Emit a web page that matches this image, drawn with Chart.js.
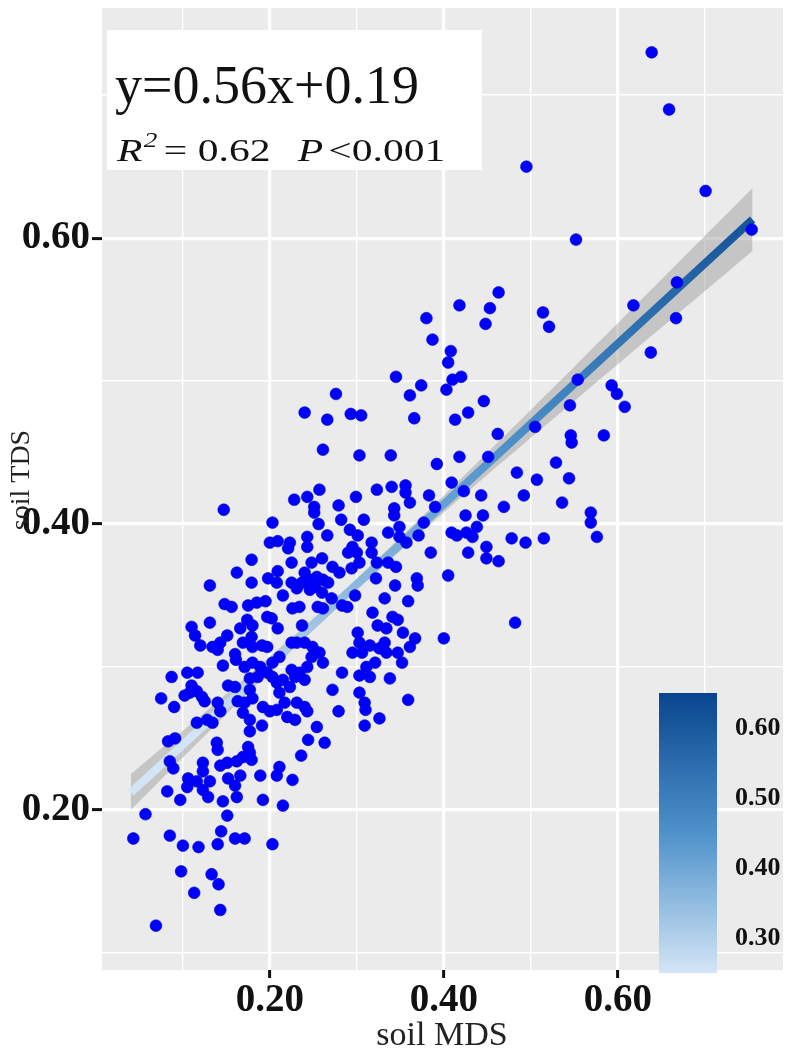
<!DOCTYPE html>
<html lang="en">
<head>
<meta charset="UTF-8" />
<title>soil MDS vs soil TDS</title>
<style>
  html, body { margin: 0; padding: 0; background: #fff; }
  .box { width: 787px; height: 1051px; }
</style>
</head>
<body>
<div class="box"><canvas id="scatter" width="787" height="1051"></canvas></div>
<script src="https://cdn.jsdelivr.net/npm/chart.js"></script>
<script>
// axis setup
const xRange = [0.007, 0.79];
const yRange = [0.088, 0.761];
const gridTicks = [0.1, 0.2, 0.3, 0.4, 0.5, 0.6, 0.7];
const labelledTicks = [0.2, 0.4, 0.6];
const colorRange = [0.25, 0.65];
const colorTicks = [0.3, 0.4, 0.5, 0.6];
const xTitle = "soil MDS";
const yTitle = "soil TDS";

// fit: y = 0.56x + 0.19
const fitText = "y=0.56x+0.19";
const r2Text = "0.62";
const pText = "<0.001";
const fitMDS = [0.04, 0.755];
const fitTDS = [0.212, 0.613];
const bandMDS = [0.04, 0.15, 0.27, 0.40, 0.55, 0.755];
const bandUpper = [0.225, 0.281, 0.345, 0.420, 0.510, 0.635];
const bandLower = [0.200, 0.267, 0.337, 0.408, 0.486, 0.591];

// [soil MDS, soil TDS]
const soilPoints = [
  [0.639,0.730],[0.659,0.690],[0.495,0.650],[0.701,0.633],[0.754,0.606],[0.552,0.599],[0.463,0.562],[0.668,0.569],
  [0.418,0.553],[0.453,0.551],[0.448,0.540],[0.514,0.548],[0.521,0.538],[0.380,0.544],[0.387,0.529],[0.408,0.521],
  [0.405,0.513],[0.345,0.503],[0.374,0.497],[0.361,0.490],[0.410,0.501],[0.420,0.503],[0.403,0.494],[0.446,0.486],
  [0.276,0.491],[0.240,0.478],[0.266,0.473],[0.293,0.477],[0.305,0.476],[0.366,0.474],[0.413,0.473],[0.428,0.478],
  [0.554,0.501],[0.545,0.483],[0.505,0.468],[0.462,0.463],[0.546,0.462],[0.547,0.457],[0.261,0.452],[0.303,0.448],
  [0.339,0.448],[0.392,0.442],[0.418,0.447],[0.451,0.447],[0.529,0.443],[0.484,0.436],[0.507,0.431],[0.544,0.432],
  [0.409,0.429],[0.423,0.423],[0.443,0.420],[0.492,0.420],[0.469,0.412],[0.536,0.415],[0.569,0.408],[0.257,0.424],
  [0.243,0.419],[0.251,0.412],[0.251,0.408],[0.279,0.413],[0.299,0.419],[0.323,0.424],[0.340,0.426],[0.356,0.427],
  [0.356,0.422],[0.361,0.415],[0.383,0.420],[0.390,0.412],[0.343,0.411],[0.343,0.406],[0.425,0.406],[0.445,0.406],
  [0.282,0.403],[0.308,0.403],[0.638,0.520],[0.593,0.497],[0.599,0.491],[0.608,0.482],[0.584,0.462],[0.228,0.417],
  [0.147,0.410],[0.618,0.553],[0.667,0.544],
  [0.569,0.401],[0.576,0.391],[0.478,0.390],[0.494,0.387],[0.515,0.390],[0.482,0.331],
  [0.256,0.400],[0.243,0.391],[0.243,0.384],[0.266,0.392],[0.292,0.396],[0.301,0.392],[0.317,0.387],[0.336,0.394],
  [0.349,0.398],[0.349,0.391],[0.377,0.401],[0.371,0.392],[0.409,0.394],[0.415,0.392],[0.426,0.394],[0.433,0.391],
  [0.438,0.398],[0.449,0.384],[0.295,0.384],[0.357,0.387],[0.428,0.380],[0.449,0.376],[0.463,0.374],[0.385,0.380],
  [0.405,0.364],[0.248,0.373],[0.260,0.376],[0.272,0.370],[0.280,0.366],[0.294,0.369],[0.303,0.373],[0.317,0.380],
  [0.323,0.373],[0.336,0.373],[0.345,0.370],[0.290,0.380],[0.300,0.380],[0.240,0.366],[0.237,0.359],[0.246,0.361],
  [0.252,0.356],[0.261,0.361],[0.267,0.359],[0.254,0.363],[0.246,0.354],[0.260,0.352],[0.234,0.342],[0.271,0.348],
  [0.283,0.343],[0.289,0.342],[0.298,0.350],[0.255,0.342],[0.261,0.341],[0.322,0.362],[0.344,0.357],[0.369,0.362],
  [0.370,0.357],[0.332,0.348],[0.359,0.346],[0.318,0.338],[0.324,0.329],[0.334,0.327],[0.341,0.335],[0.347,0.333],
  [0.353,0.324],[0.367,0.320],[0.237,0.329],[0.301,0.324],[0.303,0.317],[0.315,0.315],[0.326,0.313],[0.332,0.317],
  [0.334,0.310],[0.295,0.310],[0.306,0.310],[0.347,0.310],[0.361,0.314],[0.352,0.303],[0.400,0.320],[0.231,0.317],
  [0.240,0.317],[0.249,0.314],[0.257,0.310],[0.248,0.307],[0.261,0.303],[0.243,0.300],[0.234,0.296],[0.240,0.291],
  [0.321,0.303],[0.311,0.300],[0.303,0.294],[0.315,0.293],[0.283,0.296],[0.338,0.292],[0.272,0.284],[0.303,0.282],
  [0.359,0.277],[0.231,0.275],[0.240,0.272],[0.243,0.269],[0.309,0.275],[0.310,0.270],[0.279,0.269],[0.326,0.264],
  [0.254,0.258],[0.309,0.259],
  [0.203,0.401],[0.200,0.387],[0.209,0.388],[0.223,0.387],[0.221,0.383],[0.179,0.375],[0.225,0.373],[0.162,0.366],
  [0.209,0.367],[0.198,0.362],[0.208,0.359],[0.179,0.359],[0.225,0.359],[0.231,0.355],[0.215,0.350],[0.131,0.357],
  [0.148,0.344],[0.156,0.342],[0.175,0.343],[0.185,0.345],[0.195,0.346],[0.226,0.341],[0.131,0.331],[0.110,0.328],
  [0.114,0.322],[0.120,0.315],[0.174,0.333],[0.180,0.329],[0.197,0.335],[0.202,0.334],[0.166,0.327],[0.209,0.327],
  [0.151,0.322],[0.143,0.317],[0.134,0.314],[0.140,0.312],[0.169,0.317],[0.179,0.321],[0.180,0.314],[0.191,0.315],
  [0.197,0.314],[0.160,0.309],[0.161,0.305],[0.225,0.317],[0.211,0.307],[0.203,0.303],[0.146,0.301],[0.171,0.300],
  [0.180,0.303],[0.189,0.300],[0.197,0.296],[0.186,0.293],[0.177,0.292],[0.105,0.296],[0.117,0.296],[0.087,0.293],
  [0.110,0.287],[0.116,0.283],[0.108,0.282],[0.122,0.279],[0.125,0.276],[0.152,0.287],[0.160,0.286],[0.163,0.276],
  [0.171,0.275],[0.177,0.284],[0.180,0.278],[0.203,0.293],[0.208,0.289],[0.215,0.291],[0.223,0.286],[0.229,0.293],
  [0.075,0.278],[0.090,0.272],[0.102,0.280],[0.140,0.275],[0.143,0.269],[0.116,0.261],[0.128,0.263],[0.134,0.261],
  [0.169,0.268],[0.177,0.263],[0.192,0.272],[0.200,0.269],[0.208,0.270],[0.220,0.265],[0.229,0.263],[0.225,0.298],
  [0.211,0.282],[0.217,0.275],
  [0.191,0.259],[0.177,0.255],[0.083,0.248],[0.091,0.250],[0.139,0.247],[0.140,0.242],[0.175,0.244],[0.177,0.240],
  [0.169,0.237],[0.244,0.249],[0.263,0.247],[0.236,0.238],[0.085,0.234],[0.089,0.229],[0.123,0.233],[0.123,0.227],
  [0.143,0.231],[0.151,0.233],[0.162,0.234],[0.179,0.235],[0.211,0.230],[0.208,0.224],[0.189,0.224],[0.166,0.224],
  [0.152,0.222],[0.160,0.217],[0.226,0.221],[0.106,0.222],[0.116,0.220],[0.105,0.216],[0.131,0.220],[0.123,0.214],
  [0.129,0.209],[0.082,0.213],[0.097,0.207],[0.146,0.206],[0.162,0.209],[0.192,0.207],[0.215,0.203],[0.057,0.197],
  [0.151,0.196],[0.043,0.180],[0.085,0.182],[0.100,0.175],[0.118,0.174],[0.140,0.176],[0.144,0.185],[0.160,0.180],
  [0.171,0.180],[0.203,0.176],[0.098,0.157],[0.133,0.155],[0.141,0.148],[0.113,0.142],[0.143,0.130],[0.069,0.119]
];

const serif = "'Liberation Serif', 'Times New Roman', serif";
const isLabelled = (v) => labelledTicks.some((t) => Math.abs(t - v) < 1e-6);

function blueRamp(ctx, yTop, yBottom) {
  const g = ctx.createLinearGradient(0, yTop, 0, yBottom);
  g.addColorStop(0, "#08458e");
  g.addColorStop(0.5, "#4f92cb");
  g.addColorStop(1, "#d3e5f5");
  return g;
}

// grey panel behind the grid
const panelBg = {
  id: "panelBg",
  beforeDraw(chart) {
    const { ctx, chartArea: a } = chart;
    ctx.save();
    ctx.fillStyle = "#ebebeb";
    ctx.fillRect(a.left, a.top, a.right - a.left, a.bottom - a.top);
    ctx.restore();
  }
};

// equation box, axis titles, colour bar
const extras = {
  id: "extras",
  afterDraw(chart) {
    const ctx = chart.ctx;
    ctx.save();
    ctx.fillStyle = "#fff";
    ctx.fillRect(107, 30, 375, 140);

    ctx.fillStyle = "#111";
    ctx.textAlign = "left";
    ctx.textBaseline = "alphabetic";
    ctx.font = "54px " + serif;
    ctx.fillText(fitText, 115, 103);

    // second line is drawn a bit wider, like the original
    ctx.save();
    ctx.translate(117, 161);
    ctx.scale(1.3, 1);
    ctx.font = "italic 32px " + serif;
    ctx.fillText("R", 0, 0);
    let x = ctx.measureText("R").width;
    ctx.font = "italic 21px " + serif;
    ctx.fillText("2", x + 1, -14);
    x += ctx.measureText("2").width + 6;
    ctx.font = "32px " + serif;
    ctx.fillText("= " + r2Text, x, 0);
    ctx.font = "italic 32px " + serif;
    ctx.fillText("P", 139, 0);
    x = 139 + ctx.measureText("P").width + 4;
    ctx.font = "32px " + serif;
    ctx.fillText(pText, x, 0);
    ctx.restore();

    // axis titles
    ctx.fillStyle = "#222";
    ctx.textAlign = "center";
    ctx.textBaseline = "alphabetic";
    ctx.font = "34px " + serif;
    ctx.fillText(xTitle, 442, 1045);
    ctx.save();
    ctx.translate(29, 480);
    ctx.rotate(-Math.PI / 2);
    ctx.font = "28px " + serif;
    ctx.fillText(yTitle, 0, 0);
    ctx.restore();

    // colour bar
    const top = 693, bottom = 973, left = 659, w = 58;
    ctx.fillStyle = blueRamp(ctx, top, bottom);
    ctx.fillRect(left, top, w, bottom - top);
    const yOf = (v) => bottom - (v - colorRange[0]) / (colorRange[1] - colorRange[0]) * (bottom - top);
    ctx.fillStyle = "#111";
    ctx.textAlign = "left";
    ctx.font = "bold 26px " + serif;
    ctx.textBaseline = "middle";
    colorTicks.forEach((v) => ctx.fillText(v.toFixed(2), 735, yOf(v)));
    ctx.restore();
  }
};

const axisFont = { family: serif, size: 39, weight: "bold" };

function gridOptions(tickLen) {
  return {
    color: "#ffffff",
    lineWidth: (c) => (c.tick && isLabelled(c.tick.value) ? 3.2 : 1.4),
    drawTicks: true,
    tickLength: tickLen,
    tickWidth: 3,
    tickColor: (c) => (c.tick && isLabelled(c.tick.value) ? "#111" : "rgba(0,0,0,0)")
  };
}

new Chart(document.getElementById("scatter").getContext("2d"), {
  type: "scatter",
  data: {
    datasets: [
      {
        label: "samples",
        data: soilPoints.map((p) => ({ x: p[0], y: p[1] })),
        backgroundColor: "#0000ff",
        borderColor: "#0000c8",
        borderWidth: 0.6,
        pointRadius: 5.9,
        order: 0
      },
      {
        type: "line",
        label: "fit",
        data: fitMDS.map((x, i) => ({ x: x, y: fitTDS[i] })),
        borderWidth: 8,
        borderCapStyle: "butt",
        pointRadius: 0,
        fill: false,
        borderColor: (c) => {
          const { chart } = c;
          if (!chart.chartArea) return "#4f92cb";
          const ys = chart.scales.y;
          return blueRamp(chart.ctx, ys.getPixelForValue(colorRange[1]), ys.getPixelForValue(colorRange[0]));
        },
        order: 1
      },
      {
        type: "line",
        label: "ci-upper",
        data: bandMDS.map((x, i) => ({ x: x, y: bandUpper[i] })),
        borderWidth: 0,
        pointRadius: 0,
        tension: 0.3,
        fill: "+1",
        backgroundColor: "rgba(150,150,150,0.45)",
        order: 2
      },
      {
        type: "line",
        label: "ci-lower",
        data: bandMDS.map((x, i) => ({ x: x, y: bandLower[i] })),
        borderWidth: 0,
        pointRadius: 0,
        tension: 0.3,
        fill: false,
        order: 3
      }
    ]
  },
  options: {
    responsive: false,
    animation: false,
    layout: { autoPadding: false, padding: { top: 8, right: 4, left: 0, bottom: 0 } },
    plugins: { legend: { display: false }, tooltip: { enabled: false } },
    scales: {
      x: {
        type: "linear",
        min: xRange[0],
        max: xRange[1],
        afterBuildTicks: (s) => { s.ticks = gridTicks.map((v) => ({ value: v })); },
        afterFit: (s) => { s.height = 81; s.paddingLeft = 0; s.paddingRight = 0; },
        border: { display: false },
        grid: gridOptions(8),
        ticks: {
          color: "#111",
          font: axisFont,
          padding: 0,
          maxRotation: 0,
          autoSkip: false,
          callback: (v) => (isLabelled(v) ? v.toFixed(2) : "")
        }
      },
      y: {
        type: "linear",
        min: yRange[0],
        max: yRange[1],
        afterBuildTicks: (s) => { s.ticks = gridTicks.map((v) => ({ value: v })); },
        afterFit: (s) => { s.width = 102; s.paddingTop = 0; s.paddingBottom = 0; },
        border: { display: false },
        grid: gridOptions(10),
        ticks: {
          color: "#111",
          font: axisFont,
          padding: 2,
          autoSkip: false,
          callback: (v) => (isLabelled(v) ? v.toFixed(2) : "")
        }
      }
    }
  },
  plugins: [panelBg, extras]
});
</script>
</body>
</html>
